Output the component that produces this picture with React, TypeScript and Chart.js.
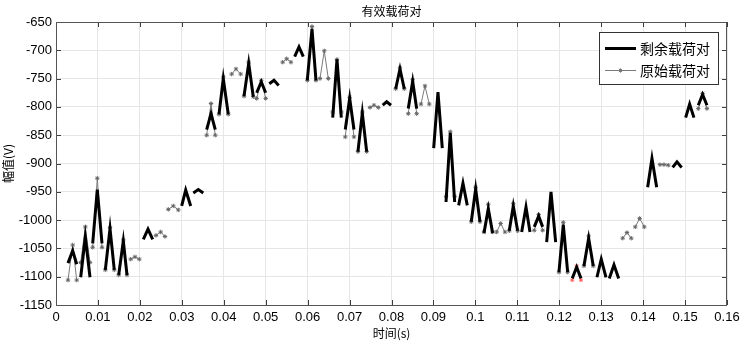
import React, { useEffect, useRef } from "react";
import { Chart, registerables } from "chart.js";
Chart.register(...registerables);

// Residual load pairs (thick black)
const residualTimes: number[][] = [
  [0.00286, 0.00398, 0.00494], [0.00589, 0.00699, 0.00811], [0.00875, 0.00985, 0.01097],
  [0.01176, 0.01288, 0.0139], [0.01495, 0.01605, 0.01693], [0.02082, 0.02194, 0.02306],
  [0.02997, 0.03093, 0.03212], [0.03274, 0.03393, 0.03512], [0.03593, 0.03696, 0.03798],
  [0.03887, 0.03989, 0.04108], [0.04483, 0.04595, 0.04704], [0.04785, 0.04895, 0.05],
  [0.05086, 0.05198, 0.0531], [0.05691, 0.05794, 0.05897], [0.05992, 0.06104, 0.06199],
  [0.06598, 0.067, 0.06803], [0.06898, 0.07003, 0.07105], [0.072, 0.07304, 0.07408],
  [0.0779, 0.07885, 0.07988], [0.081, 0.08202, 0.08305], [0.084, 0.08505, 0.086],
  [0.09006, 0.09108, 0.09211], [0.093, 0.09402, 0.09506], [0.09601, 0.09704, 0.09807],
  [0.09902, 0.10007, 0.1011], [0.10205, 0.10308, 0.10412], [0.10808, 0.10904, 0.11008],
  [0.11104, 0.11207, 0.11302], [0.11404, 0.11509, 0.11604], [0.117, 0.11803, 0.11914],
  [0.11993, 0.12096, 0.12201], [0.1231, 0.12415, 0.12518], [0.12589, 0.12701, 0.12811],
  [0.12899, 0.13002, 0.13114], [0.13193, 0.13305, 0.13417], [0.14108, 0.14211, 0.14323],
  [0.14704, 0.14807, 0.14919], [0.15014, 0.15109, 0.15212], [0.15315, 0.15418, 0.15522],
];
const residualValues: number[][] = [
  [-1076, -1054, -1078], [-1101, -1030, -1101], [-1041, -946, -1041],
  [-1088, -1015, -1088], [-1097, -1037, -1097], [-1034, -1016, -1034],
  [-975, -947, -975], [-952, -946, -952], [-840, -812, -840],
  [-813, -750, -813], [-781, -723, -782], [-775, -756, -775],
  [-759, -753, -762], [-711, -694, -711], [-753, -662, -753],
  [-819, -716, -819], [-840, -785, -840], [-879, -811, -879],
  [-797, -791, -797], [-768, -733, -768], [-803, -755, -803],
  [-873, -774, -873], [-968, -846, -968], [-974, -935, -974],
  [-1003, -945, -1003], [-1023, -980, -1023], [-1019, -975, -1019],
  [-1021, -977, -1021], [-1012, -993, -1012], [-1039, -950, -1039],
  [-1092, -1008, -1092], [-1103, -1083, -1103], [-1081, -1032, -1081],
  [-1101, -1069, -1101], [-1103, -1079, -1103], [-942, -891, -942],
  [-907, -897, -907], [-819, -795, -819], [-797, -778, -797],
];

// Original load pairs (thin gray with markers)
const originalTimes: number[][] = [
  [0.00286, 0.00398, 0.00494], [0.00589, 0.00699, 0.00811], [0.00875, 0.00985, 0.01097],
  [0.01176, 0.01288, 0.0139], [0.01495, 0.01605, 0.01693], [0.01781, 0.01884, 0.01986],
  [0.02384, 0.02496, 0.02599], [0.02678, 0.02797, 0.02916], [0.03593, 0.03696, 0.03798],
  [0.03887, 0.03989, 0.04108], [0.04189, 0.04292, 0.04404], [0.04483, 0.04595, 0.04704],
  [0.04785, 0.04895, 0.05], [0.05405, 0.05501, 0.05603], [0.05992, 0.06104, 0.06199],
  [0.06295, 0.06397, 0.06493], [0.06598, 0.067, 0.06803], [0.06898, 0.07003, 0.07105],
  [0.072, 0.07304, 0.07408], [0.07487, 0.07582, 0.07685], [0.081, 0.08202, 0.08305],
  [0.084, 0.08505, 0.086], [0.08703, 0.08798, 0.08901], [0.093, 0.09402, 0.09506],
  [0.09902, 0.10007, 0.1011], [0.10205, 0.10308, 0.10412], [0.10508, 0.10603, 0.10706],
  [0.10808, 0.10904, 0.11008], [0.11404, 0.11509, 0.11604], [0.11993, 0.12096, 0.12201],
  [0.12589, 0.12701, 0.12811], [0.13512, 0.13615, 0.13717], [0.13813, 0.13917, 0.14028],
  [0.14402, 0.14497, 0.146], [0.15315, 0.15418, 0.15522],
];
const originalValues: number[][] = [
  [-1106, -1044, -1106], [-1075, -1012, -1075], [-1048, -926, -1048],
  [-1088, -1013, -1088], [-1097, -1035, -1097], [-1069, -1065, -1069],
  [-1027, -1021, -1029], [-981, -975, -982], [-850, -794, -850],
  [-813, -747, -813], [-742, -733, -742], [-781, -721, -782],
  [-785, -753, -785], [-721, -715, -721], [-753, -658, -753],
  [-750, -701, -750], [-809, -716, -809], [-853, -783, -853],
  [-879, -809, -879], [-801, -797, -801], [-768, -731, -768],
  [-812, -752, -812], [-795, -763, -795], [-958, -844, -958],
  [-1003, -942, -1003], [-1021, -972, -1021], [-1021, -1006, -1021],
  [-1019, -971, -1019], [-1018, -990, -1018], [-1092, -1004, -1092],
  [-1081, -1028, -1081], [-1032, -1022, -1032], [-1012, -997, -1012],
  [-902, -902, -903], [-803, -776, -803],
];

// A pair whose markers are shown in red
const markedTimes: number[][] = [[0.1231, 0.12415, 0.12518]];
const markedValues: number[][] = [[-1106, -1081, -1106]];

const xMin = 0, xMax = 0.16, xStep = 0.01;
const yMin = -1150, yMax = -650, yStep = 50;

const titleText = "有效载荷对";
const xTitle = "时间(s)";
const yTitle = "幅值(V)";
const seriesNames = ["剩余载荷对", "原始载荷对"];

function toPoints(times: number[][], values: number[][]) {
  const pts: { x: number; y: number | null }[] = [];
  times.forEach((g, i) => {
    g.forEach((t, j) => pts.push({ x: t, y: values[i][j] }));
    pts.push({ x: g[g.length - 1], y: null });
  });
  return pts;
}

const CJK = '"Noto Sans CJK SC", "Noto Sans", sans-serif';
const LAT = '"Liberation Sans", Arial, sans-serif';

function drawStar(ctx: CanvasRenderingContext2D, x: number, y: number, r: number, color: string) {
  ctx.save();
  ctx.strokeStyle = color;
  ctx.lineWidth = 1;
  ctx.beginPath();
  ctx.moveTo(x - r, y); ctx.lineTo(x + r, y);
  ctx.moveTo(x, y - r); ctx.lineTo(x, y + r);
  ctx.moveTo(x - r * 0.7, y - r * 0.7); ctx.lineTo(x + r * 0.7, y + r * 0.7);
  ctx.moveTo(x - r * 0.7, y + r * 0.7); ctx.lineTo(x + r * 0.7, y - r * 0.7);
  ctx.stroke();
  ctx.restore();
}

const framePlugin = {
  id: "matlabFrame",
  afterDraw(chart: any) {
    const { ctx, chartArea: a, scales } = chart;
    const xs = scales.x, ys = scales.y;
    ctx.save();
    ctx.strokeStyle = "#3c3c3c";
    ctx.lineWidth = 1;
    ctx.beginPath();
    xs.ticks.forEach((t: any) => {
      const px = Math.round(xs.getPixelForValue(t.value)) + 0.5;
      ctx.moveTo(px, a.bottom); ctx.lineTo(px, a.bottom - 5);
      ctx.moveTo(px, a.top); ctx.lineTo(px, a.top + 5);
    });
    ys.ticks.forEach((t: any) => {
      const py = Math.round(ys.getPixelForValue(t.value)) + 0.5;
      ctx.moveTo(a.left, py); ctx.lineTo(a.left + 5, py);
      ctx.moveTo(a.right, py); ctx.lineTo(a.right - 5, py);
    });
    ctx.stroke();
    ctx.strokeStyle = "#555";
    ctx.strokeRect(Math.round(a.left) + 0.5, Math.round(a.top) + 0.5, Math.round(a.right - a.left) - 1, Math.round(a.bottom - a.top));

    // title
    ctx.fillStyle = "#000";
    ctx.font = `12px ${CJK}`;
    ctx.textAlign = "center";
    ctx.textBaseline = "middle";
    ctx.fillText(titleText, (a.left + a.right) / 2, 11);

    // legend
    const lx = 599, ly = 32, lw = 119, lh = 52;
    ctx.fillStyle = "#fff";
    ctx.fillRect(lx, ly, lw, lh);
    ctx.strokeStyle = "#333";
    ctx.lineWidth = 1;
    ctx.strokeRect(lx + 0.5, ly + 0.5, lw, lh);
    const rows = [48.5, 70.5];
    ctx.strokeStyle = "#000";
    ctx.lineWidth = 3;
    ctx.beginPath(); ctx.moveTo(605, rows[0]); ctx.lineTo(636, rows[0]); ctx.stroke();
    ctx.strokeStyle = "#7a7a7a";
    ctx.lineWidth = 1;
    ctx.beginPath(); ctx.moveTo(605, rows[1]); ctx.lineTo(636, rows[1]); ctx.stroke();
    drawStar(ctx, 620.5, rows[1], 2.2, "#7a7a7a");
    ctx.fillStyle = "#000";
    ctx.font = `14px ${CJK}`;
    ctx.textAlign = "left";
    ctx.textBaseline = "middle";
    ctx.fillText(seriesNames[0], 640, rows[0]);
    ctx.fillText(seriesNames[1], 640, rows[1]);
    ctx.restore();
  },
};

export default function App() {
  const ref = useRef<HTMLCanvasElement>(null);
  useEffect(() => {
    document.body.style.margin = "0";
    const canvas = ref.current!;
    const chart = new Chart(canvas, {
      type: "line",
      data: {
        datasets: [
          {
            label: seriesNames[0],
            data: toPoints(residualTimes, residualValues) as any,
            borderColor: "#000",
            borderWidth: 3,
            pointRadius: 0,
            spanGaps: false,
            borderJoinStyle: "miter",
          },
          {
            label: "marked",
            data: toPoints(markedTimes, markedValues) as any,
            borderColor: "#ff6060",
            borderWidth: 1,
            pointStyle: "star",
            pointRadius: 2,
            pointBorderColor: "#ff6060",
            pointBackgroundColor: "#ff6060",
            pointBorderWidth: 1,
            spanGaps: false,
          },
          {
            label: seriesNames[1],
            data: toPoints(originalTimes, originalValues) as any,
            borderColor: "#7a7a7a",
            borderWidth: 1,
            pointStyle: "star",
            pointRadius: 2.2,
            pointBorderColor: "#666",
            pointBackgroundColor: "#666",
            pointBorderWidth: 1,
            spanGaps: false,
          },
        ],
      },
      options: {
        animation: false,
        responsive: false,
        parsing: true,
        layout: { padding: { top: 22, right: 20, left: 0, bottom: 0 } },
        plugins: { legend: { display: false }, tooltip: { enabled: false }, title: { display: false } },
        scales: {
          x: {
            type: "linear",
            min: xMin,
            max: xMax,
            afterFit: (s: any) => { s.height = 40; },
            ticks: {
              stepSize: xStep,
              padding: 5,
              color: "#000",
              font: { family: LAT, size: 13 },
              maxRotation: 0,
              autoSkip: false,
              callback: (v: any) => String(Number(Number(v).toFixed(2))),
            },
            grid: { color: "#e6e6e6", drawTicks: false },
            border: { display: false },
            title: { display: true, text: xTitle, color: "#000", font: { family: CJK, size: 12 }, padding: { top: 0, bottom: 4 } },
          },
          y: {
            type: "linear",
            min: yMin,
            max: yMax,
            afterFit: (s: any) => { s.width = 56; },
            ticks: {
              stepSize: yStep,
              padding: 4,
              color: "#000",
              font: { family: LAT, size: 13 },
              autoSkip: false,
              callback: (v: any) => String(Math.round(Number(v))),
            },
            grid: { color: "#e6e6e6", drawTicks: false },
            border: { display: false },
            title: { display: true, text: yTitle, color: "#000", font: { family: CJK, size: 12 }, padding: { top: 1, bottom: 0 } },
          },
        },
      },
      plugins: [framePlugin],
    } as any);
    return () => chart.destroy();
  }, []);
  return (
    <div style={{ width: 747, height: 345 }}>
      <canvas ref={ref} width={747} height={345} />
    </div>
  );
}
